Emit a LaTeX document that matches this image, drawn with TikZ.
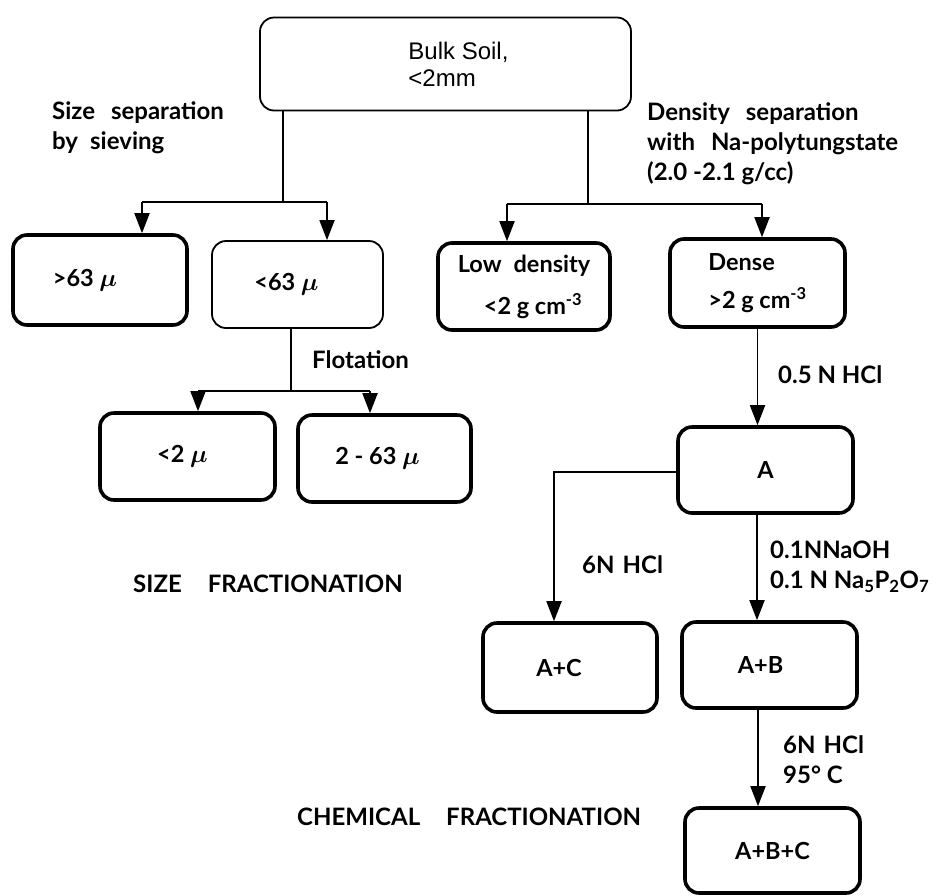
\documentclass[tikz,border=0pt]{standalone}
\usepackage{fontspec}
\setmainfont{Lato}
\newfontfamily\arialfont{Liberation Sans}
\usetikzlibrary{arrows.meta}
\begin{document}
\begin{tikzpicture}[x=1pt,y=-1pt,
  box/.style={draw, rounded corners=14pt, line width=3.6pt, inner sep=0pt,
    font=\bfseries\boldmath\fontsize{23.5}{38}\selectfont, align=center},
  thinbox/.style={box, line width=1.8pt},
  conn/.style={line width=1.8pt},
  arr/.style={conn, -{Triangle[width=15pt,length=20pt]}},
  lbl/.style={font=\bfseries\fontsize{24}{30}\selectfont, align=left, inner sep=0pt, anchor=west}
]
\useasboundingbox (0,0) rectangle (942,895);

% boxes
\node[thinbox, minimum width=371pt, minimum height=93pt, align=left,
  font=\arialfont\fontsize{24}{29}\selectfont] (top) at (445.5,64) {\hspace*{26pt}\raisebox{-2pt}{Bulk Soil,}\\\hspace*{26pt}<2mm};
\node[box, minimum width=174pt, minimum height=90pt] (b63) at (100,280) {>63 $\mu$\hspace{30pt}};
\node[thinbox, minimum width=171pt, minimum height=87pt] (s63) at (297.5,284.5) {\raisebox{4pt}{<63 $\mu$}\hspace{22pt}};
\node[box, minimum width=172pt, minimum height=87pt] (low) at (524,286.5) {\raisebox{4pt}{Low\hspace{12pt}density}\\\hspace{18pt}<2 g cm\textsuperscript{-3}};
\node[box, minimum width=175pt, minimum height=88pt, align=left] (dense) at (757.5,283) {Dense\\>2 g cm\textsuperscript{-3}};
\node[box, minimum width=175pt, minimum height=87pt] (s2) at (187.5,456.5) {\raisebox{-12pt}{<2 $\mu$}\hspace{10pt}};
\node[box, minimum width=173pt, minimum height=87pt] (s263) at (384.5,458.5) {\raisebox{-8pt}{2 - 63 $\mu$}\hspace{14pt}};
\node[box, minimum width=175pt, minimum height=86pt] (A) at (765.5,470) {\raisebox{-8pt}{A}};
\node[box, minimum width=174pt, minimum height=89pt] (AC) at (570,667.5) {\raisebox{-3pt}{A+C}\hspace{22pt}};
\node[box, minimum width=175pt, minimum height=86pt] (AB) at (769.5,665) {\raisebox{-2pt}{A+B}\hspace{18pt}};
\node[box, minimum width=175pt, minimum height=85pt] (ABC) at (772.5,850.5) {\raisebox{-6pt}{A+B+C}};

% junctions
\coordinate (j1) at (283,202);
\coordinate (j1l) at (142,202);
\coordinate (j1r) at (327,202);
\coordinate (j2) at (588,204);
\coordinate (j2l) at (507,204);
\coordinate (j2r) at (762,204);
\coordinate (j3) at (291,391);
\coordinate (j3l) at (198,391);
\coordinate (j3r) at (370,391);
\coordinate (k) at (554,472);
\coordinate (m) at (757,600);
\coordinate (n) at (758,760);

% connectors
\draw[conn] (top.south -| j1) -- (j1);
\draw[conn] (j1l) -- (j1r);
\draw[arr] (j1l) -- (b63.north -| j1l);
\draw[arr] (j1r) -- (s63.north -| j1r);

\draw[conn] (top.south -| j2) -- (j2);
\draw[conn] (j2l) -- (j2r);
\draw[arr] (j2l) -- (low.north -| j2l);
\draw[arr] (j2r) -- (dense.north -| j2r);

\draw[conn] (s63.south -| j3) -- (j3);
\draw[conn] (j3l) -- (j3r);
\draw[arr] (j3l) -- (s2.north -| j3l);
\draw[arr] (j3r) -- (s263.north -| j3r);

\draw[arr] (dense.south) -- (dense.south |- A.north);
\draw[arr] (A.west |- k) -- (k) -- (AC.north -| k);
\draw[arr] (A.south -| m) -- (AB.north -| m);
\draw[arr] (AB.south -| n) -- (ABC.north -| n);

% labels
\node[lbl] (lsize) at (52,128) {Size\hspace{16pt}separation\\by\hspace{12pt}sieving};
\node[lbl] (ldens) at (647,144) {Density\hspace{16pt}separation\\with\hspace{16pt}Na-polytungstate\\(2.0 -2.1 g/cc)};
\node[lbl] (lflot) at (312,360) {Flotation};
\node[lbl] (lhcl) at (778,375) {0.5 N HCl};
\node[lbl] (l6n) at (582,565) {6N\hspace{8pt}HCl};
\node[lbl] (lnaoh) at (770,567) {0.1NNaOH\\0.1 N Na\textsubscript{5}P\textsubscript{2}O\textsubscript{7}};
\node[lbl] (l6n95) at (783,760) {6N\hspace{8pt}HCl\\95° C};
\node[lbl] (lsf) at (133,584) {SIZE\hspace{26pt}FRACTIONATION};
\node[lbl] (lcf) at (297,817) {CHEMICAL\hspace{26pt}FRACTIONATION};
\end{tikzpicture}
\end{document}
